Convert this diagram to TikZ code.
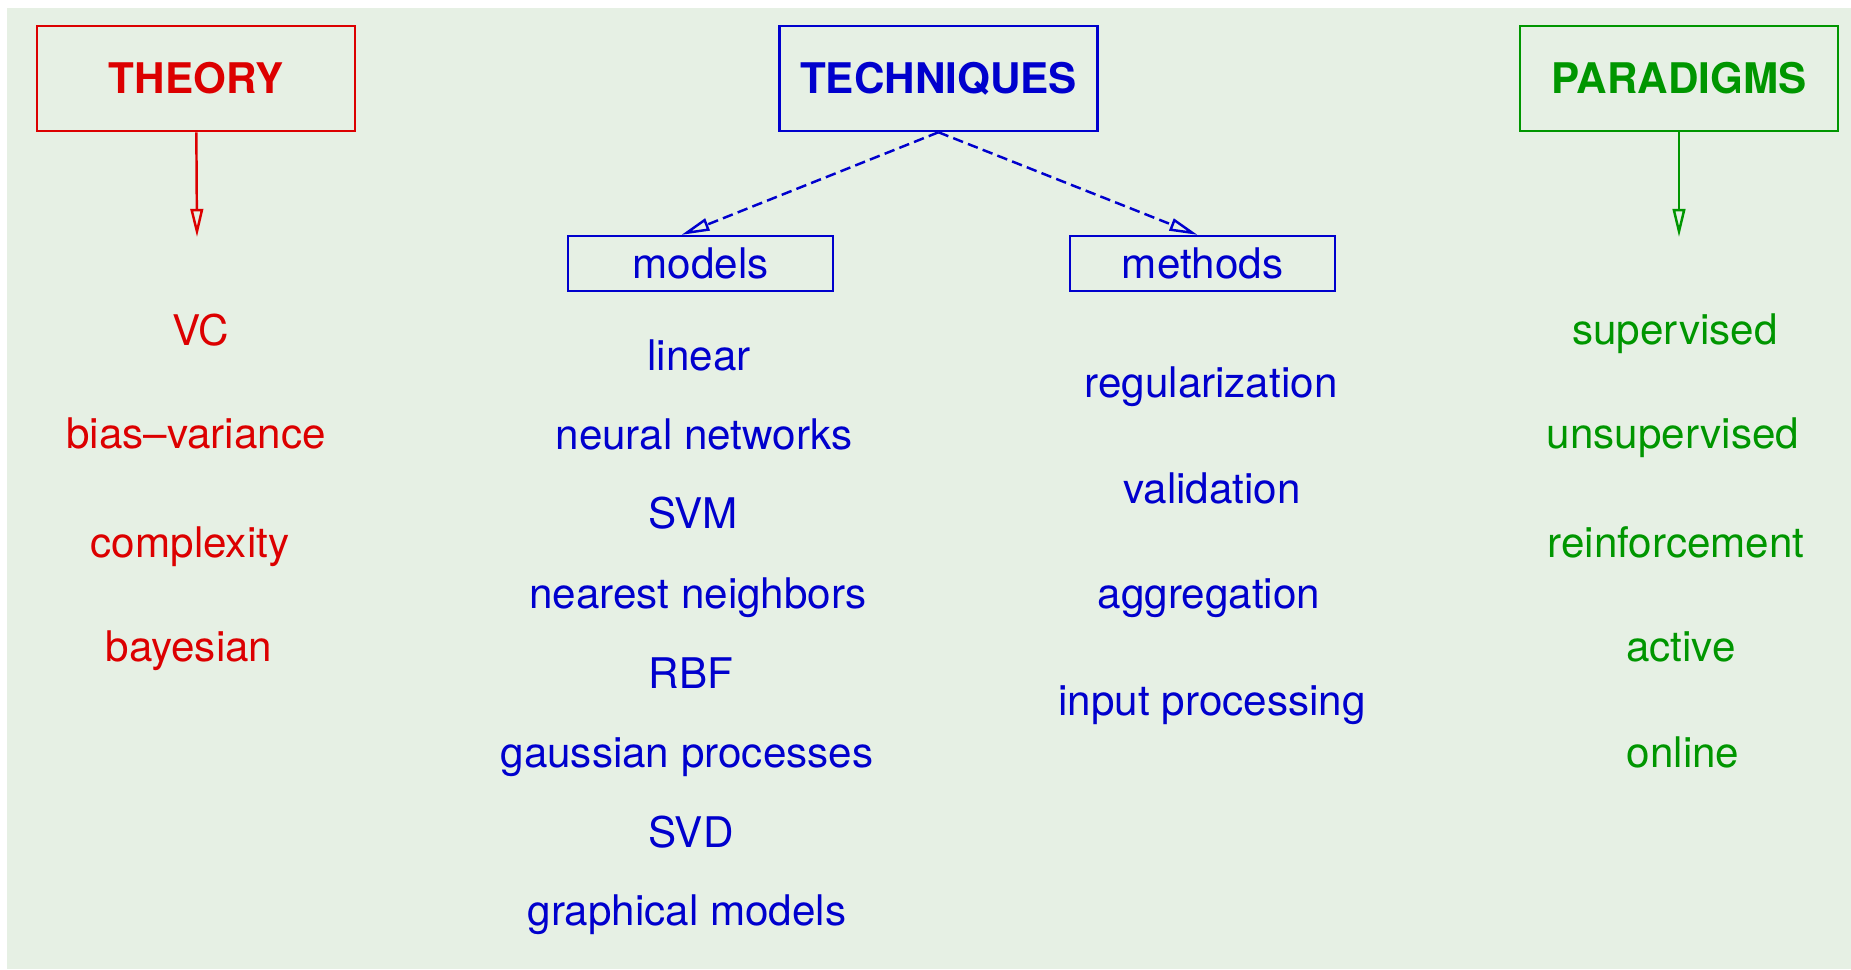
\documentclass[tikz,border=0pt]{standalone}
\usepackage{fontspec}
\setmainfont{TeX Gyre Heros}
\usetikzlibrary{arrows.meta}

\definecolor{theorycol}{RGB}{220,0,0}
\definecolor{techcol}{RGB}{0,0,205}
\definecolor{paracol}{RGB}{0,150,0}
\definecolor{bgcol}{RGB}{230,240,228}

\begin{document}
\begin{tikzpicture}[
x=0.01cm, y=-0.01cm,
headbox/.style={draw, line width=0.7pt, minimum width=3.18cm, minimum height=1.05cm, font=\bfseries\fontsize{12}{14}\selectfont},
subbox/.style={draw, line width=0.7pt, minimum width=2.65cm, minimum height=0.54cm, font=\fontsize{12}{14}\selectfont},
item/.style={anchor=base, inner sep=0pt, font=\fontsize{12}{14}\selectfont},
tiparrow/.style={-{Triangle[open, length=8pt, width=3.6pt]}, line width=0.7pt},
]
%Background
\useasboundingbox (0,0) rectangle (1851,969);
\fill[bgcol] (7,8) rectangle (1851,969);
%Heads
\node[headbox, theorycol] at (196,78.5)   (theory) {THEORY};
\node[headbox, techcol]   at (938.5,78.5) (tech)   {TECHNIQUES};
\node[headbox, paracol]   at (1679,78.5)  (para)   {PARADIGMS};
\node[subbox, techcol]    at (700.5,263.5)  (models)  {models};
\node[subbox, techcol]    at (1202.5,263.5) (methods) {methods};
\coordinate (theorytip) at (197,237);
\coordinate (paratip)   at (1679,237);
%Theory
\node[item, theorycol] at (201,345) (vc)   {VC};
\node[item, theorycol] at (196,448) (bias) {bias--variance};
\node[item, theorycol] at (190,557) (comp) {complexity};
\node[item, theorycol] at (189,661) (bayes) {bayesian};
%Models
\node[item, techcol] at (699,370) (linear) {linear};
\node[item, techcol] at (704,449) (neural) {neural networks};
\node[item, techcol] at (693,528) (svm)    {SVM};
\node[item, techcol] at (698,608) (nn)     {nearest neighbors};
\node[item, techcol] at (691,688) (rbf)    {RBF};
\node[item, techcol] at (687,767) (gp)     {gaussian processes};
\node[item, techcol] at (691,847) (svd)    {SVD};
\node[item, techcol] at (687,925) (graph)  {graphical models};
%Methods
\node[item, techcol] at (1211,397) (reg)   {regularization};
\node[item, techcol] at (1212,503) (valid) {validation};
\node[item, techcol] at (1209,608) (aggr)  {aggregation};
\node[item, techcol] at (1212,715) (input) {input processing};
%Paradigms
\node[item, paracol] at (1675,344) (sup)    {supervised};
\node[item, paracol] at (1673,448) (unsup)  {unsupervised};
\node[item, paracol] at (1676,557) (reinf)  {reinforcement};
\node[item, paracol] at (1681,661) (active) {active};
\node[item, paracol] at (1683,767) (online) {online};
%Lines
\draw[tiparrow, theorycol] (theory) -- (theorytip);
\draw[tiparrow, paracol] (para) -- (paratip);
\draw[tiparrow, techcol, dash pattern=on 3pt off 1.5pt] (tech.south) -- ([xshift=-0.19cm]models.north);
\draw[tiparrow, techcol, dash pattern=on 3pt off 1.5pt] (tech.south) -- ([xshift=-0.05cm]methods.north);
\end{tikzpicture}
\end{document}
